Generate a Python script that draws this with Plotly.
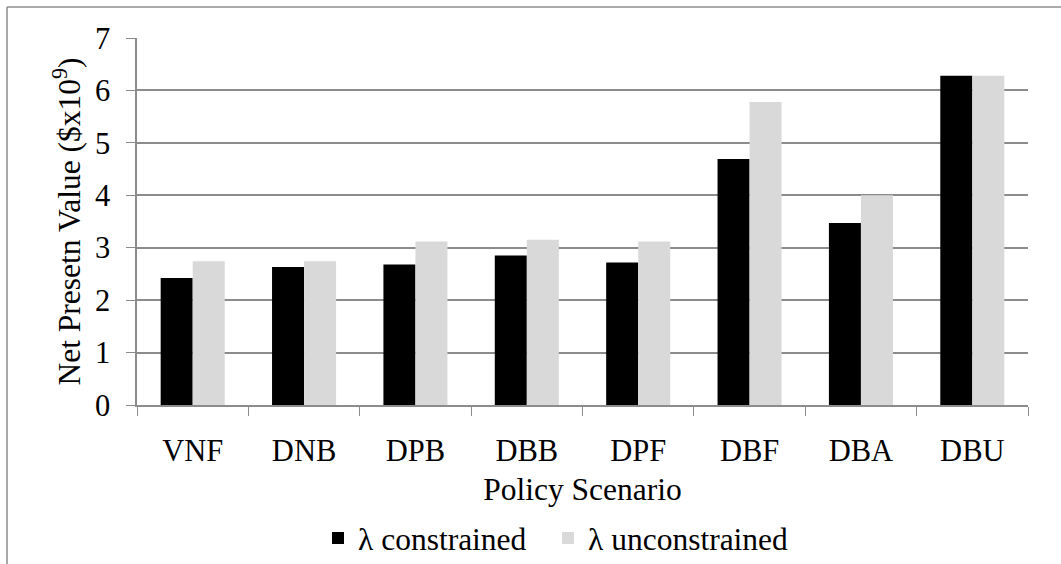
import plotly.graph_objects as go

scenarios = ["VNF", "DNB", "DPB", "DBB", "DPF", "DBF", "DBA", "DBU"]
npv_constrained = [2.42, 2.63, 2.68, 2.85, 2.72, 4.69, 3.47, 6.28]
npv_unconstrained = [2.74, 2.74, 3.12, 3.15, 3.12, 5.78, 4.00, 6.28]
y_ticks = [0, 1, 2, 3, 4, 5, 6, 7]

FONT = "Liberation Serif, Times New Roman, serif"
TICK_SIZE = 30.5
TITLE_SIZE = 31.5
GRID = "#8c8c8c"

fig = go.Figure()
fig.add_trace(go.Bar(x=scenarios, y=npv_constrained, name="λ constrained",
                     legend="legend",
                     marker=dict(color="#000000", line=dict(width=0))))
fig.add_trace(go.Bar(x=scenarios, y=npv_unconstrained, name="λ unconstrained",
                     legend="legend2",
                     marker=dict(color="#d9d9d9", line=dict(width=0))))

legend_style = dict(orientation="h", xref="container", yref="container",
                    xanchor="left", yanchor="middle", y=(564 - 538) / 564,
                    font=dict(family=FONT, size=TITLE_SIZE),
                    itemwidth=30, bgcolor="rgba(0,0,0,0)")

fig.update_layout(
    width=1061, height=564,
    margin=dict(l=137, r=33, t=38, b=159),
    paper_bgcolor="white", plot_bgcolor="white",
    barmode="group", bargap=0.425, bargroupgap=0,
    font=dict(family=FONT, size=TITLE_SIZE, color="#000000"),
    showlegend=True,
    legend=dict(legend_style, x=318 / 1061),
    legend2=dict(legend_style, x=548 / 1061),
    xaxis=dict(
        type="category", tickson="boundaries", ticks="outside", ticklen=9,
        tickcolor=GRID, showline=True, linecolor=GRID, linewidth=1.5,
        showgrid=False, tickfont=dict(family=FONT, size=TICK_SIZE),
        ticklabelstandoff=18, automargin=False,
        title=dict(text="Policy Scenario", font=dict(family=FONT, size=TITLE_SIZE), standoff=11),
    ),
    yaxis=dict(
        range=[0, 7], tickvals=y_ticks, ticks="outside", ticklen=9,
        tickcolor=GRID, showline=True, linecolor=GRID, linewidth=1.5,
        showgrid=True, gridcolor=GRID, gridwidth=1.5, zeroline=False,
        tickfont=dict(family=FONT, size=TICK_SIZE), ticklabelstandoff=10,
        automargin=False,
        title=dict(text="Net Presetn Value ($x10<sup>9</sup>)",
                   font=dict(family=FONT, size=TITLE_SIZE), standoff=5),
    ),
    shapes=[
        dict(type="line", xref="paper", yref="paper",
             x0=(7 - 137) / 891, x1=(1061 - 137) / 891,
             y0=(405 - 7) / 367, y1=(405 - 7) / 367,
             line=dict(color=GRID, width=1.5)),
        dict(type="line", xref="paper", yref="paper",
             x0=(7 - 137) / 891, x1=(7 - 137) / 891,
             y0=(405 - 7) / 367, y1=(405 - 570) / 367,
             line=dict(color=GRID, width=1.5)),
    ],
)

fig.write_html("out.html")
